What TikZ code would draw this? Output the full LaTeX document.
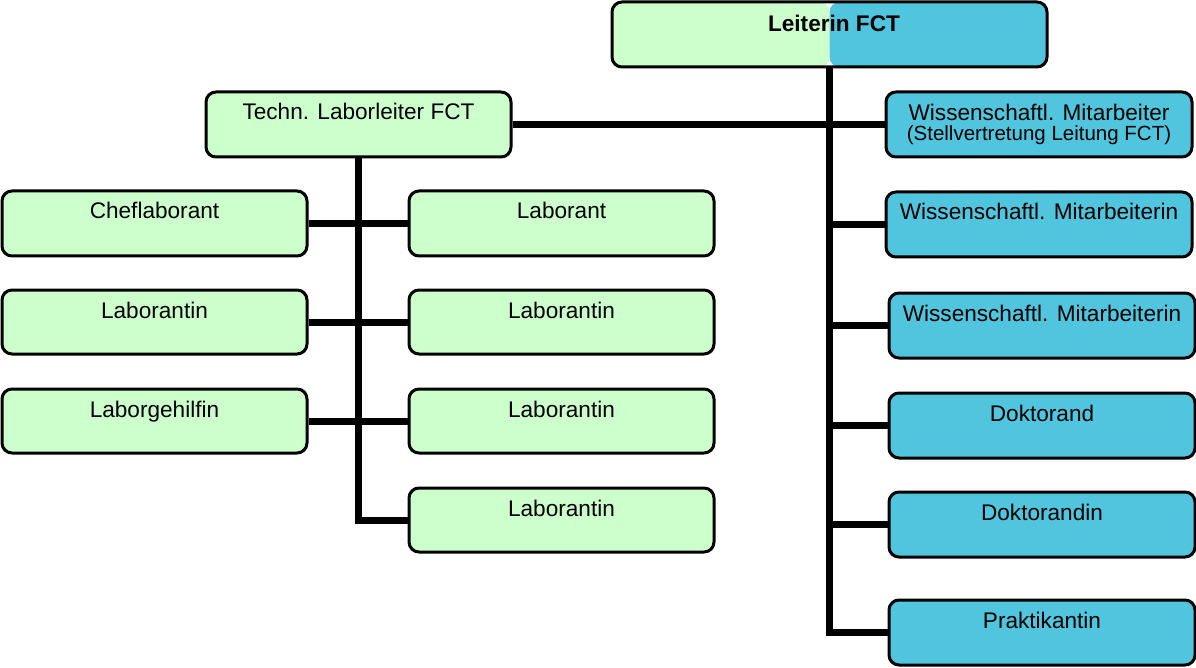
\documentclass[tikz,border=0pt]{standalone}
\usepackage{fontspec}
\setmainfont{Liberation Sans}
\definecolor{cgreen}{RGB}{204,255,204}
\definecolor{cblue}{RGB}{82,197,222}
\tikzset{
  box/.style={draw=black, line width=3pt, rounded corners=10pt, inner sep=0pt},
  gbox/.style={box, fill=cgreen},
  bbox/.style={box, fill=cblue},
  lbl/.style={inner sep=0pt, font=\fontsize{22.6}{26}\selectfont, align=center},
  conn/.style={line width=7pt, line join=miter, draw=black}
}
\newcommand\obox[7]{%
  \node[#6, minimum width={#4-#2}, minimum height={#5-#3}] (#1) at ({(#2+#4)/2},{(#3+#5)/2}) {};
  \node[lbl, anchor=base] (#1t) at ({(#2+#4)/2},{#3+28}) {#7};}
\begin{document}
\begin{tikzpicture}[x=1pt,y=-1pt]
\useasboundingbox (0,0) rectangle (1196,668);
% Leiterin
\node[box, minimum width=435, minimum height=65,
  path picture={\fill[cgreen] (path picture bounding box.south west) rectangle (path picture bounding box.north);
                \fill[cblue] (path picture bounding box.north) rectangle (path picture bounding box.south east);}]
  (lead) at (829.5,34.5) {};
\node[inner sep=0pt, font=\fontsize{22.6}{26}\selectfont\bfseries, anchor=base] (leadt) at (834,32) {Leiterin FCT};
% left side
\obox{techn}{206}{92}{511}{157}{gbox}{Techn. Laborleiter FCT}
\obox{chef}{2}{191}{307}{256}{gbox}{Cheflaborant}
\obox{lina}{2}{290}{307}{354}{gbox}{Laborantin}
\obox{geh}{2}{389}{307}{453}{gbox}{Laborgehilfin}
\obox{lab}{409}{191}{714}{256}{gbox}{Laborant}
\obox{linb}{409}{290}{714}{354}{gbox}{Laborantin}
\obox{linc}{409}{389}{714}{453}{gbox}{Laborantin}
\obox{lind}{409}{488}{714}{552}{gbox}{Laborantin}
% right side
\node[bbox, minimum width=306, minimum height=65] (wma) at (1039,124.5) {};
\node[lbl, anchor=base] (wmat) at (1039,121) {Wissenschaftl. Mitarbeiter};
\node[lbl, anchor=base, font=\fontsize{20.5}{24}\selectfont] (wmas) at (1039,141) {(Stellvertretung Leitung FCT)};
\obox{wmb}{886}{192}{1192}{257}{bbox}{Wissenschaftl. Mitarbeiterin}
\obox{wmc}{889}{293}{1195}{358}{bbox}{Wissenschaftl. Mitarbeiterin}
\obox{dok}{889}{393}{1195}{458}{bbox}{Doktorand}
\obox{dokin}{889}{492}{1195}{557}{bbox}{Doktorandin}
\obox{prak}{889}{600}{1195}{665}{bbox}{Praktikantin}
% connectors
\draw[conn] (lead.south) -- (lead.south |- prak.west) -- (prak.west);
\draw[conn] (techn.east) -- (wma.west);
\draw[conn] (lead.south |- wmb.west) -- (wmb.west);
\draw[conn] (lead.south |- wmc.west) -- (wmc.west);
\draw[conn] (lead.south |- dok.west) -- (dok.west);
\draw[conn] (lead.south |- dokin.west) -- (dokin.west);
\draw[conn] (techn.south) -- (techn.south |- lind.west) -- (lind.west);
\draw[conn] (chef.east) -- (lab.west);
\draw[conn] (lina.east) -- (linb.west);
\draw[conn] (geh.east) -- (linc.west);
\end{tikzpicture}
\end{document}
